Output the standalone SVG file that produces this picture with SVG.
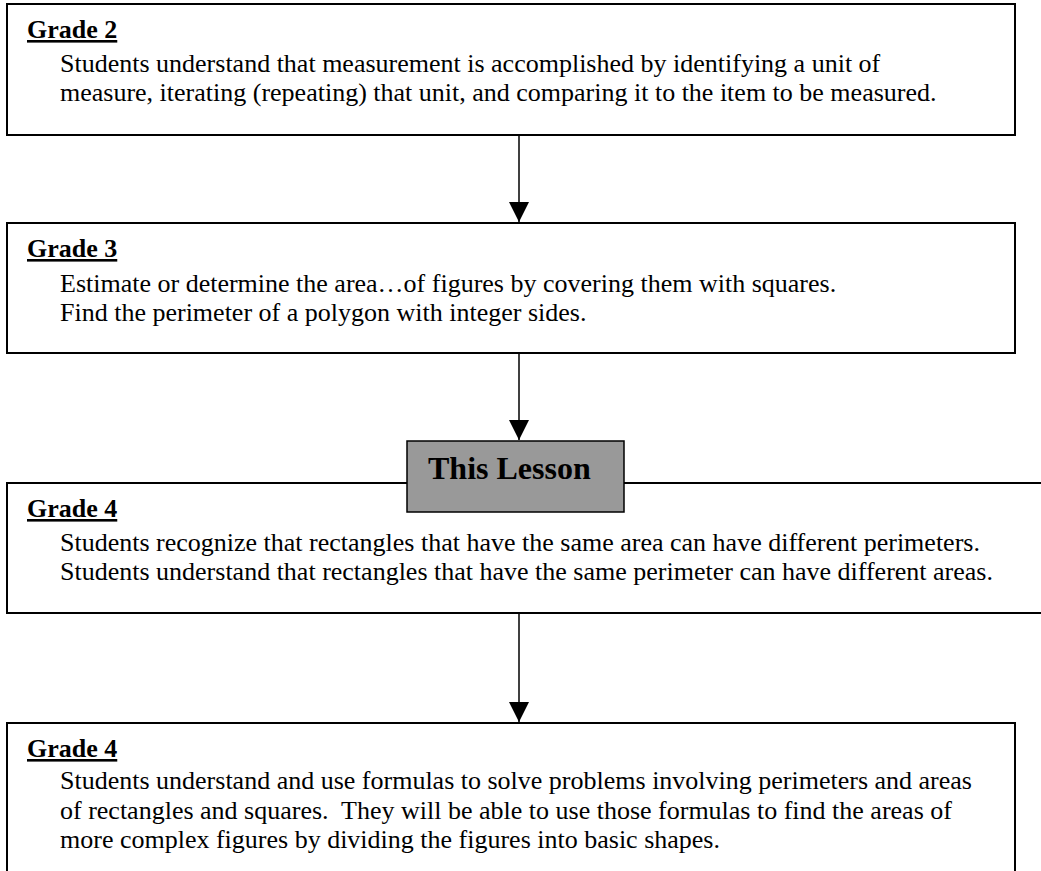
<svg xmlns="http://www.w3.org/2000/svg" width="1041" height="871" viewBox="0 0 1041 871">
<style>
.box{fill:#fff;stroke:#000;stroke-width:2}
.head{font-family:"Liberation Serif","Times New Roman",serif;font-size:26px;font-weight:bold;text-decoration:underline;fill:#000}
.body{font-family:"Liberation Serif","Times New Roman",serif;font-size:26px;fill:#000;white-space:pre}
.conn{stroke:#000;stroke-width:1.5;fill:none}
.lesson{fill:#999999;stroke:#000;stroke-width:1.5}
.lessontext{font-family:"Liberation Serif","Times New Roman",serif;font-size:32px;font-weight:bold;fill:#000}
</style>
<defs>
<marker id="ah" markerUnits="userSpaceOnUse" markerWidth="20" markerHeight="20" refX="20" refY="10" orient="auto" viewBox="0 0 20 20">
<path d="M0,0 L20,10 L0,20 Z" fill="#000"/>
</marker>
</defs>
<rect width="1041" height="871" fill="#fff"/>
<g id="connectors">
<line class="conn" x1="519" y1="135" x2="519" y2="222" marker-end="url(#ah)"/>
<line class="conn" x1="519" y1="353" x2="519" y2="440" marker-end="url(#ah)"/>
<line class="conn" x1="519" y1="613" x2="519" y2="722" marker-end="url(#ah)"/>
</g>
<g id="grade2">
<rect class="box" x="7" y="4" width="1008" height="131"/>
<text class="head" x="27" y="38">Grade 2</text>
<text class="body" x="60" y="72">Students understand that measurement is accomplished by identifying a unit of</text>
<text class="body" x="60" y="101">measure, iterating (repeating) that unit, and comparing it to the item to be measured.</text>
</g>
<g id="grade3">
<rect class="box" x="7" y="223" width="1008" height="130"/>
<text class="head" x="27" y="257">Grade 3</text>
<text class="body" x="60" y="292">Estimate or determine the area…of figures by covering them with squares.</text>
<text class="body" x="60" y="321">Find the perimeter of a polygon with integer sides.</text>
</g>
<g id="grade4a">
<rect class="box" x="7" y="483" width="1045" height="130"/>
<text class="head" x="27" y="517">Grade 4</text>
<text class="body" x="60" y="551">Students recognize that rectangles that have the same area can have different perimeters.</text>
<text class="body" x="60" y="580">Students understand that rectangles that have the same perimeter can have different areas.</text>
</g>
<g id="thislesson">
<rect class="lesson" x="407" y="441" width="217" height="71"/>
<text class="lessontext" x="428" y="479">This Lesson</text>
</g>
<g id="grade4b">
<rect class="box" x="7" y="723" width="1008" height="160"/>
<text class="head" x="27" y="757">Grade 4</text>
<text class="body" x="60" y="789">Students understand and use formulas to solve problems involving perimeters and areas</text>
<text class="body" x="60" y="819">of rectangles and squares.  They will be able to use those formulas to find the areas of</text>
<text class="body" x="60" y="848">more complex figures by dividing the figures into basic shapes.</text>
</g>
</svg>
